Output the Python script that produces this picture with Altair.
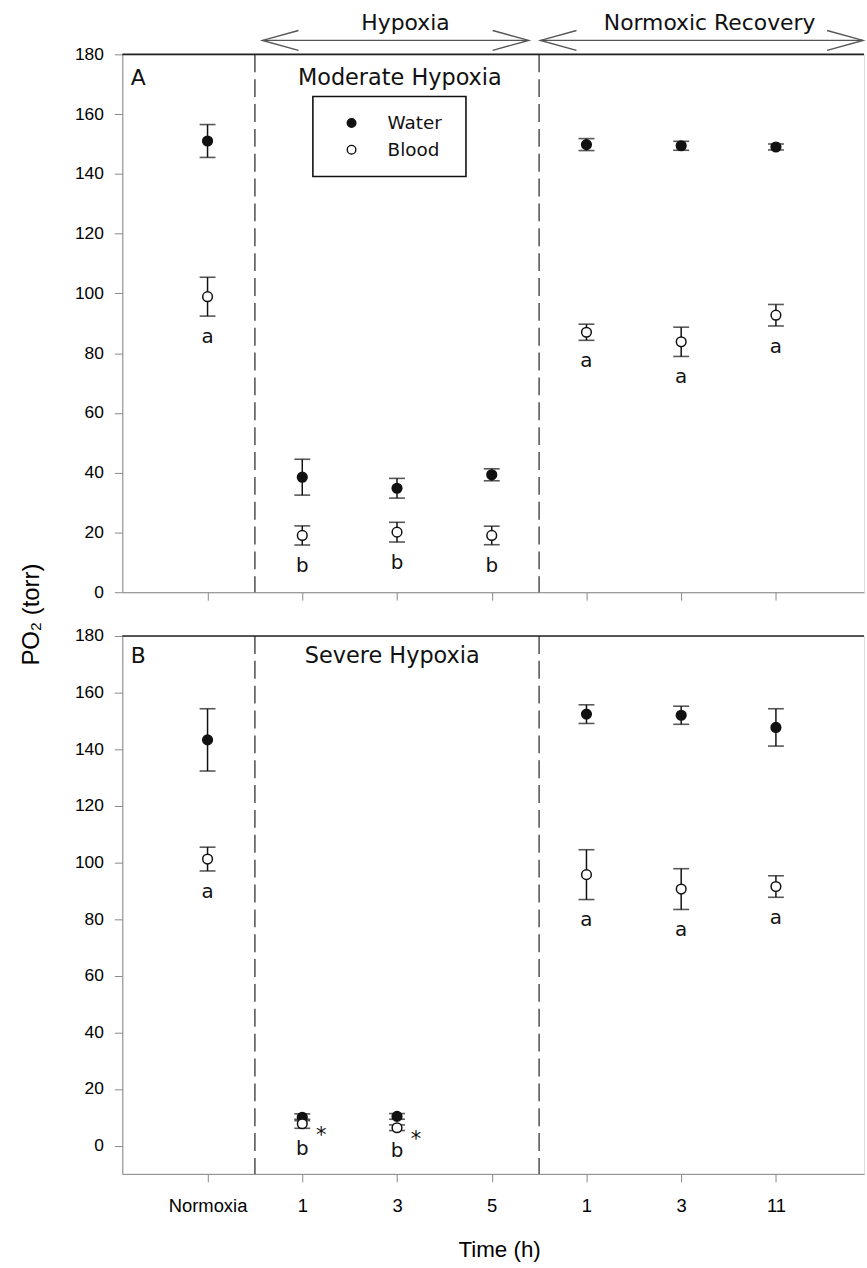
import altair as alt
import pandas as pd

FONT = "DejaVu Sans"

# ---------------- data ----------------
x_ticks = [0, 1, 2, 3, 4, 5, 6]
x_labels = ["Normoxia", "1", "3", "5", "1", "3", "11"]
section_bounds = [0.5, 3.5]

# Panel A : moderate hypoxia
a_x = [0, 1, 2, 3, 4, 5, 6]
a_water = [151.0, 38.5, 34.8, 39.3, 149.8, 149.4, 149.0]
a_water_err = [5.5, 6.0, 3.3, 2.0, 2.0, 1.5, 1.0]
a_blood = [98.9, 19.0, 20.1, 19.0, 87.0, 83.8, 92.7]
a_blood_err = [6.5, 3.2, 3.3, 3.1, 2.7, 4.9, 3.6]
a_letters = ["a", "b", "b", "b", "a", "a", "a"]

# Panel B : severe hypoxia
b_x = [0, 1, 2, 4, 5, 6]
b_water = [143.3, 10.0, 10.3, 152.4, 152.0, 147.7]
b_water_err = [11.0, 1.2, 1.0, 3.3, 3.2, 6.6]
b_blood = [101.2, 7.7, 6.3, 95.7, 90.6, 91.5]
b_blood_err = [4.2, 1.6, 1.0, 8.8, 7.2, 3.8]
b_letters = ["a", "b", "b", "a", "a", "a"]
b_star_x = [1, 2]
b_star_y = [7.7, 6.3]

# annotations (data units)
top_labels = ["Hypoxia", "Normoxic Recovery"]
top_label_x = [2.09, 5.30]
top_label_y = 188.0
arrow_x0 = [0.58, 3.515]
arrow_x1 = [3.39, 6.92]
arrow_y = 184.66
arrow_head_dx = 0.38
arrow_head_dy = 3.33

legend_names = ["Water", "Blood"]
legend_sym_x = 1.52
legend_sym_y = [157.0, 148.1]
legend_text_x = 1.90
legend_box = [1.112, 2.728, 139.1, 165.9]

W, H = 746, 541
X_DOMAIN = [-0.9, 6.93]

label_expr = "[" + ",".join("'%s'" % s for s in x_labels) + "][datum.value]"


def series_df(xs, water, werr, blood, berr, letters):
    rows = []
    for i, x in enumerate(xs):
        rows.append(dict(x=x, v=water[i], lo=water[i] - werr[i], hi=water[i] + werr[i],
                         series="Water", letter=""))
        rows.append(dict(x=x, v=blood[i], lo=blood[i] - berr[i], hi=blood[i] + berr[i],
                         series="Blood", letter=letters[i]))
    return pd.DataFrame(rows)


def panel(df, ydomain, panel_letter, title_text, title_x, title_y, show_xlabels, ytitle,
          extra_layers=()):
    xscale = alt.Scale(domain=X_DOMAIN, nice=False, zero=False)
    yscale = alt.Scale(domain=ydomain, nice=False, zero=False)
    if show_xlabels:
        xaxis = alt.Axis(values=x_ticks, labelExpr=label_expr, title="Time (h)",
                         titleX=379, titleY=76, titleBaseline="middle", titleAlign="center",
                         titleFontSize=22.5, titleFontWeight="normal", labelFontSize=18.5,
                         labelPadding=15, tickSize=8, grid=False)
    else:
        xaxis = alt.Axis(values=x_ticks, labels=False, title=None, tickSize=8, grid=False)
    if ytitle:
        yaxis = alt.Axis(values=list(range(0, 181, 20)), title=ytitle, titleAngle=270,
                         titleX=-91, titleY=563, titleAlign="center", titleBaseline="middle",
                         titleFontSize=24, titleFontWeight="normal", labelFontSize=17.5,
                         labelPadding=11, tickSize=8, grid=False)
    else:
        yaxis = alt.Axis(values=list(range(0, 181, 20)), title=None, labelFontSize=17.5,
                         labelPadding=11, tickSize=8, grid=False)

    base = alt.Chart(df)
    X = alt.X("x:Q", scale=xscale, axis=xaxis)

    sep = alt.Chart(pd.DataFrame({"x": section_bounds})).mark_rule(
        color="#333", strokeWidth=1.3, strokeDash=[18, 7]
    ).encode(x=alt.X("x:Q", scale=xscale))

    topline = alt.Chart(pd.DataFrame({"a": [0]})).mark_rule(color="#222", strokeWidth=1.6).encode(
        x=alt.value(0), x2=alt.value(W), y=alt.value(0))

    bars = base.mark_rule(color="#111", strokeWidth=1.5).encode(
        x=X, y=alt.Y("lo:Q", scale=yscale, axis=yaxis), y2="hi:Q")
    cap_lo = base.mark_tick(orient="horizontal", size=16, thickness=1.6, color="#111").encode(
        x=alt.X("x:Q", scale=xscale), y=alt.Y("lo:Q", scale=yscale))
    cap_hi = base.mark_tick(orient="horizontal", size=16, thickness=1.6, color="#111").encode(
        x=alt.X("x:Q", scale=xscale), y=alt.Y("hi:Q", scale=yscale))
    pts = base.mark_point(shape="circle", filled=True, size=95, stroke="#111", strokeWidth=1.5,
                          opacity=1).encode(
        x=alt.X("x:Q", scale=xscale), y=alt.Y("v:Q", scale=yscale),
        fill=alt.Fill("series:N", scale=alt.Scale(domain=legend_names, range=["#111", "white"]),
                      legend=None))
    letters = base.transform_filter("datum.letter != ''").mark_text(
        font=FONT, fontSize=20, color="#111", baseline="middle", dy=21).encode(
        x=alt.X("x:Q", scale=xscale), y=alt.Y("lo:Q", scale=yscale), text="letter:N")

    ttl = alt.Chart(pd.DataFrame({"x": [title_x], "y": [title_y], "t": [title_text]})).mark_text(
        font=FONT, fontSize=22.5, color="#111", align="center", baseline="alphabetic").encode(
        x=alt.X("x:Q", scale=xscale), y=alt.Y("y:Q", scale=yscale), text="t:N")
    plet = alt.Chart(pd.DataFrame({"x": [X_DOMAIN[0] + 0.09], "y": [title_y], "t": [panel_letter]})).mark_text(
        font=FONT, fontSize=22, color="#111", align="left", baseline="alphabetic").encode(
        x=alt.X("x:Q", scale=xscale), y=alt.Y("y:Q", scale=yscale), text="t:N")

    layers = [sep, topline, bars, cap_lo, cap_hi, pts, letters, ttl, plet] + list(extra_layers)
    return alt.layer(*layers).properties(width=W, height=H)


# ---- panel A extras: top arrows + legend
xscaleA = alt.Scale(domain=X_DOMAIN, nice=False, zero=False)
yscaleA = alt.Scale(domain=[0, 180], nice=False, zero=False)

arrow_rows = []
for k, (x0, x1) in enumerate(zip(arrow_x0, arrow_x1)):
    segs = [
        [(x0, arrow_y), (x1, arrow_y)],
        [(x0 + arrow_head_dx, arrow_y + arrow_head_dy), (x0, arrow_y), (x0 + arrow_head_dx, arrow_y - arrow_head_dy)],
        [(x1 - arrow_head_dx, arrow_y + arrow_head_dy), (x1, arrow_y), (x1 - arrow_head_dx, arrow_y - arrow_head_dy)],
    ]
    for s, seg in enumerate(segs):
        for o, (px, py) in enumerate(seg):
            arrow_rows.append(dict(seg=f"{k}-{s}", o=o, x=px, y=py))
arrows = alt.Chart(pd.DataFrame(arrow_rows)).mark_line(color="#555", strokeWidth=1.4).encode(
    x=alt.X("x:Q", scale=xscaleA), y=alt.Y("y:Q", scale=yscaleA), detail="seg:N", order="o:Q")

top_txt = alt.Chart(pd.DataFrame({"x": top_label_x, "y": [top_label_y] * 2, "t": top_labels})).mark_text(
    font=FONT, fontSize=22, color="#111", align="center", baseline="alphabetic").encode(
    x=alt.X("x:Q", scale=xscaleA), y=alt.Y("y:Q", scale=yscaleA), text="t:N")

leg_box = alt.Chart(pd.DataFrame({"x": [legend_box[0]], "x2": [legend_box[1]],
                                  "y": [legend_box[2]], "y2": [legend_box[3]]})).mark_rect(
    fill="white", stroke="#111", strokeWidth=1.6).encode(
    x=alt.X("x:Q", scale=xscaleA), x2="x2:Q", y=alt.Y("y:Q", scale=yscaleA), y2="y2:Q")
leg_df = pd.DataFrame({"x": [legend_sym_x] * 2, "tx": [legend_text_x] * 2,
                       "y": legend_sym_y, "series": legend_names})
leg_pts = alt.Chart(leg_df).mark_point(shape="circle", filled=True, size=75, stroke="#111",
                                       strokeWidth=1.4, opacity=1).encode(
    x=alt.X("x:Q", scale=xscaleA), y=alt.Y("y:Q", scale=yscaleA),
    fill=alt.Fill("series:N", scale=alt.Scale(domain=legend_names, range=["#111", "white"]), legend=None))
leg_txt = alt.Chart(leg_df).mark_text(font=FONT, fontSize=18.5, color="#111", align="left",
                                      baseline="middle").encode(
    x=alt.X("tx:Q", scale=xscaleA), y=alt.Y("y:Q", scale=yscaleA), text="series:N")

dfA = series_df(a_x, a_water, a_water_err, a_blood, a_blood_err, a_letters)
dfB = series_df(b_x, b_water, b_water_err, b_blood, b_blood_err, b_letters)

panelA = panel(dfA, [0, 180], "A", "Moderate Hypoxia", 2.03, 169.8, False, "PO₂ (torr)",
               extra_layers=[arrows, top_txt, leg_box, leg_pts, leg_txt])

xscaleB = alt.Scale(domain=X_DOMAIN, nice=False, zero=False)
yscaleB = alt.Scale(domain=[-10, 180], nice=False, zero=False)
stars = alt.Chart(pd.DataFrame({"x": b_star_x, "y": b_star_y})).mark_text(
    text="*", font=FONT, fontSize=21, color="#111", align="center", baseline="alphabetic",
    dx=19, dy=18).encode(x=alt.X("x:Q", scale=xscaleB), y=alt.Y("y:Q", scale=yscaleB))

panelB = panel(dfB, [-10, 180], "B", "Severe Hypoxia", 1.95, 170.4, True, None,
               extra_layers=[stars])

chart = alt.vconcat(panelA, panelB, spacing=44, bounds="flush").resolve_scale(
    y="independent"
).properties(
    padding={"left": 19, "top": 8, "right": 0, "bottom": 0}
).configure_view(stroke=None).configure_axis(
    domainColor="#111", domainWidth=1.6, tickColor="#111", tickWidth=1.5,
    labelColor="#111", titleColor="#111", labelFont=FONT, titleFont=FONT
).configure(background="white")

chart.save("out.html", embed_options={"renderer": "svg", "actions": False})
